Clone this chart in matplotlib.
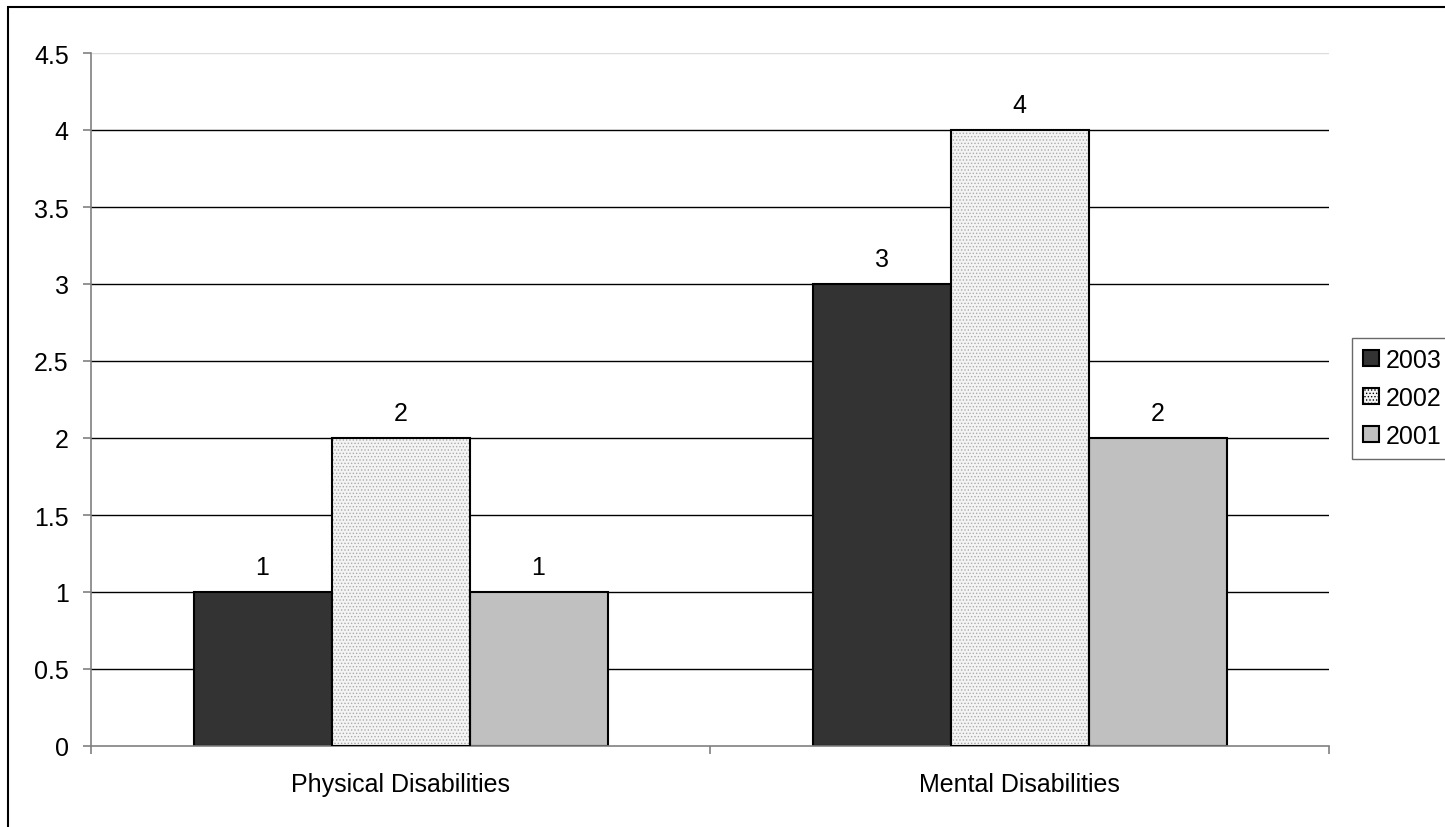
import matplotlib
matplotlib.use("Agg")
import matplotlib.pyplot as plt
from matplotlib.patches import Rectangle, Patch
import numpy as np

plt.rcParams['font.family'] = ['Liberation Sans', 'DejaVu Sans']
plt.rcParams['hatch.linewidth'] = 0.6

categories = ["Physical Disabilities", "Mental Disabilities"]
series = ["2003", "2002", "2001"]
values_2003 = [1, 3]
values_2002 = [2, 4]
values_2001 = [1, 2]
yticks = [0, 0.5, 1, 1.5, 2, 2.5, 3, 3.5, 4, 4.5]
ytick_labels = ["0", "0.5", "1", "1.5", "2", "2.5", "3", "3.5", "4", "4.5"]

W, H = 1445, 828
fig = plt.figure(figsize=(W / 100, H / 100), dpi=100)
ax = fig.add_axes([91 / W, 1 - 747 / H, (1329 - 91) / W, (747 - 54) / H])

# outer border (left and top visible)
fig.patches.append(Rectangle((8 / W, -0.5), 2.0, 1.5 - 8 / H, transform=fig.transFigure,
                             fill=False, edgecolor='black', linewidth=1.5, zorder=0))

x = np.arange(len(categories))
bw = 138 / 619
fs = 18

ax.set_axisbelow(True)
for yv in yticks[1:-1]:
    ax.axhline(yv, color='black', linewidth=1.0, zorder=0)
ax.axhline(4.5, color='#dddddd', linewidth=1.0, zorder=0)

# 2003
ax.bar(x - bw, values_2003, bw, color='#333333', edgecolor='black', linewidth=1.5, zorder=2)
# 2002 dotted
ax.bar(x, values_2002, bw, color='#f4f4f4', edgecolor='#aaaaaa', hatch='.....', linewidth=0, zorder=2)
ax.bar(x, values_2002, bw, fill=False, edgecolor='black', linewidth=1.5, zorder=3)
# 2001
ax.bar(x + bw, values_2001, bw, color='#c0c0c0', edgecolor='black', linewidth=1.5, zorder=2)

for off, vals in [(-bw, values_2003), (0, values_2002), (bw, values_2001)]:
    for xi, v in zip(x, vals):
        ax.text(xi + off, v + 0.165, str(v), ha='center', va='center', fontsize=fs)

ax.set_xlim(-0.5, 1.5)
ax.set_ylim(0, 4.5)
ax.set_yticks(yticks)
ax.set_yticklabels(ytick_labels, fontsize=fs)
ax.set_xticks(x)
ax.set_xticklabels(categories, fontsize=fs)
ax.tick_params(axis='x', length=0, pad=19)
ax.set_xticks([-0.5, 0.5, 1.5], minor=True)
ax.tick_params(axis='x', which='minor', length=6, color='#808080', width=1.2, direction='out')
ax.tick_params(axis='y', length=6, color='#808080', width=1.2, direction='out', pad=10)

for s in ['top', 'right']:
    ax.spines[s].set_visible(False)
ax.spines['left'].set_color('#808080')
ax.spines['bottom'].set_color('#808080')
ax.spines['left'].set_linewidth(1.2)
ax.spines['bottom'].set_linewidth(1.2)

handles = [Patch(facecolor='#333333', edgecolor='black', linewidth=1.5),
           Patch(facecolor='#f4f4f4', edgecolor='black', hatch='.....', linewidth=1.5),
           Patch(facecolor='#c0c0c0', edgecolor='black', linewidth=1.5)]
leg = fig.legend(handles, series, loc='center left', bbox_to_anchor=(1352 / W, 1 - 399 / H),
                 fontsize=fs, frameon=True, fancybox=False, edgecolor='#444444',
                 handlelength=0.64, handleheight=0.64, handletextpad=0.28,
                 borderpad=0.42, labelspacing=0.56, borderaxespad=0)
leg.get_frame().set_linewidth(1.0)

fig.savefig("out.png", dpi=100)
